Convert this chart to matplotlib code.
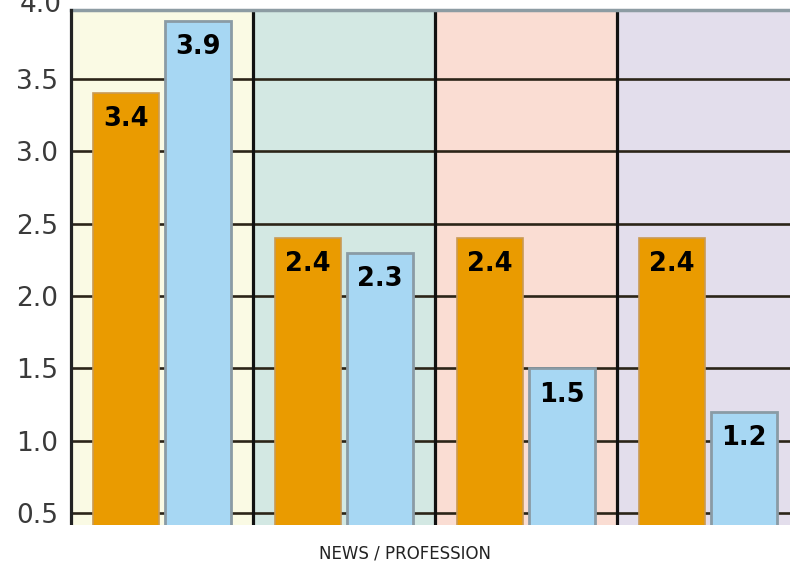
import matplotlib
matplotlib.use("Agg")
import matplotlib.pyplot as plt
from matplotlib.patches import Rectangle

# ---- data ----
groups = ["G1", "G2", "G3", "G4"]
orange_vals = [3.4, 2.4, 2.4, 2.4]
blue_vals = [3.9, 2.3, 1.5, 1.2]
y_ticks = [0.5, 1.0, 1.5, 2.0, 2.5, 3.0, 3.5, 4.0]
y_tick_labels = ["0.5", "1.0", "1.5", "2.0", "2.5", "3.0", "3.5", "4.0"]
x_label = "NEWS / PROFESSION"

bg_colors = ["#FAFAE4", "#D3E8E3", "#FADDD3", "#E3DEEC"]
orange = "#EA9B00"
blue = "#A7D7F3"

W, H = 790, 565
fig = plt.figure(figsize=(W / 100, H / 100), dpi=100)
ax_left, ax_top, ax_bottom = 71, 10, 525
ax = fig.add_axes([ax_left / W, (H - ax_bottom) / H, (W - ax_left) / W, (ax_bottom - ax_top) / H])

unit = 182.0
ax.set_xlim(0, (W - ax_left) / unit)
ax.set_ylim(0.419, 3.976)

# backgrounds
for i, c in enumerate(bg_colors):
    ax.axvspan(i, i + 1, color=c, zorder=0, lw=0)

# grid lines
for t in y_ticks:
    ax.axhline(t, color="#2b2418", lw=1.9, zorder=1)
for i in range(1, len(groups)):
    ax.axvline(i, color="#111111", lw=2.3, zorder=1)
ax.axhline(3.976, color="#8d9ca3", lw=2.5, zorder=1, clip_on=False)

# bars
x = list(range(len(groups)))
xo = [i + 0.302 for i in x]
xb = [i + 0.697 for i in x]
w = 0.363
ax.bar(xo, orange_vals, width=w, color=orange, edgecolor="#C99A55", lw=1.2, zorder=2)
ax.bar(xb, blue_vals, width=w, color=blue, edgecolor="#8a9ba5", lw=2.0, zorder=2)

for xs, vals in ((xo, orange_vals), (xb, blue_vals)):
    for xi, v in zip(xs, vals):
        ax.text(xi, v - 0.18, f"{v:.1f}", ha="center", va="center",
                fontsize=18.5, fontweight="bold", color="#000000", zorder=3)

# axes styling
for s in ["top", "right", "bottom"]:
    ax.spines[s].set_visible(False)
ax.spines["left"].set_color("#222222")
ax.spines["left"].set_linewidth(2.3)
ax.spines["left"].set_zorder(4)
ax.set_xticks([])
ax.set_yticks(y_ticks[:-1])
ax.set_yticklabels(y_tick_labels[:-1])
ax.tick_params(axis="y", length=0, pad=9, labelsize=19, labelcolor="#3a3a3a")
# top tick label sits just above the clipped plot area (cut by the image edge)
ax.text(-9 / unit, y_ticks[-1] + 0.01, y_tick_labels[-1], ha="right", va="center",
        fontsize=19, color="#3a3a3a", transform=ax.transData, clip_on=False)

# white band below plot (image is cut there)
fig.patches.append(Rectangle((0, 0), 1, (H - ax_bottom) / H, transform=fig.transFigure,
                             facecolor="white", edgecolor="none", zorder=5))
fig.text(405 / W, 1 - 553 / H, x_label, ha="center", va="center", fontsize=12,
         color="#222222", zorder=6)

fig.savefig("out.png", dpi=100)
